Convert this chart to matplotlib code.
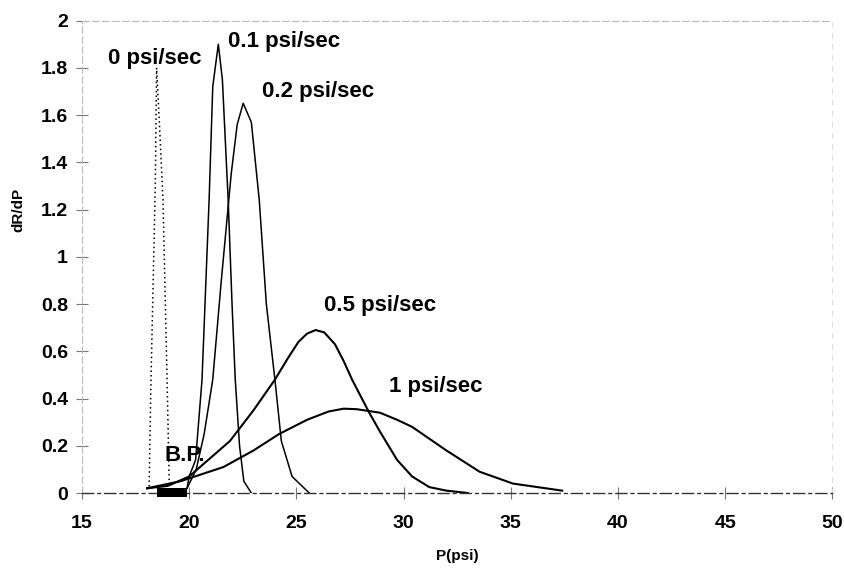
import numpy as np
import matplotlib.pyplot as plt

plt.rcParams['font.family'] = ['Liberation Sans', 'DejaVu Sans']
plt.rcParams['font.weight'] = 'bold'

# curves (pressure in psi, dR/dP)
p_0 = [18.0, 18.13, 18.22, 18.42, 18.48, 18.62, 18.78, 18.97, 19.07]
r_0 = [0.02, 0.02, 0.48, 1.30, 1.80, 1.55, 1.24, 0.48, 0.04]

p_01 = [19.9, 20.0, 20.3, 20.6, 20.93, 21.1, 21.36, 21.55, 21.82, 22.0, 22.15, 22.35, 22.55, 22.9]
r_01 = [0.02, 0.07, 0.14, 0.48, 1.24, 1.72, 1.90, 1.75, 1.24, 0.80, 0.48, 0.20, 0.05, 0.0]

p_02 = [19.9, 20.33, 20.7, 21.1, 21.5, 21.96, 22.24, 22.52, 22.9, 23.27, 23.6, 24.0, 24.3, 24.8, 25.6]
r_02 = [0.02, 0.10, 0.25, 0.48, 0.90, 1.35, 1.56, 1.65, 1.57, 1.24, 0.80, 0.48, 0.22, 0.07, 0.0]

p_05 = [18.04, 19.0, 20.0, 21.9, 23.0, 24.0, 24.6, 25.1, 25.5, 25.9, 26.3, 26.8, 27.2,
        27.6, 28.4, 28.9, 29.7, 30.4, 31.2, 32.0, 33.0]
r_05 = [0.02, 0.03, 0.07, 0.22, 0.35, 0.48, 0.57, 0.64, 0.675, 0.69, 0.68, 0.63, 0.56,
        0.48, 0.34, 0.26, 0.14, 0.07, 0.025, 0.01, 0.0]

p_1 = [18.04, 19.6, 21.6, 23.0, 24.2, 25.5, 26.5, 27.2, 27.8, 28.9, 29.7, 30.4, 31.2,
       32.0, 33.55, 35.1, 37.4]
r_1 = [0.02, 0.05, 0.11, 0.18, 0.25, 0.31, 0.345, 0.357, 0.355, 0.34, 0.31, 0.28, 0.23,
       0.18, 0.09, 0.04, 0.01]

bp_p = [18.5, 19.9]
bp_r = [-0.017, 0.02]

labels = ['0 psi/sec', '0.1 psi/sec', '0.2 psi/sec', '0.5 psi/sec', '1 psi/sec', 'B.P.']
label_p = [16.2, 21.82, 23.41, 26.3, 29.3, 18.83]
label_r = [1.84, 1.91, 1.70, 0.795, 0.45, 0.16]

fig = plt.figure(figsize=(8.45, 5.73), dpi=100)
ax = fig.add_axes([0.097, 0.1396, 0.888, 0.8244])

ax.plot(p_0, r_0, color='black', lw=1.1, ls=(0, (1, 2)))
ax.plot(p_01, r_01, color='black', lw=1.1)
ax.plot(p_02, r_02, color='black', lw=1.1)
ax.plot(p_05, r_05, color='black', lw=1.5)
ax.plot(p_1, r_1, color='black', lw=1.5)
ax.fill_between(bp_p, bp_r[0], bp_r[1], color='black', lw=0, clip_on=False, zorder=3)

for txt, x, y in zip(labels, label_p, label_r):
    ax.text(x, y, txt, fontsize=16, fontweight='bold', ha='left', va='center')

ax.set_xlim(15, 50)
ax.set_ylim(0, 2)
ax.set_xticks(np.arange(15, 51, 5))
ax.set_yticks(np.arange(0, 2.01, 0.2))
ax.set_yticklabels(['0', '0.2', '0.4', '0.6', '0.8', '1', '1.2', '1.4', '1.6', '1.8', '2'])
ax.tick_params(direction='inout', length=8, width=0.8, color='#777777', labelsize=14)
ax.tick_params(axis='x', pad=12)
ax.tick_params(axis='y', pad=6)
for lab in ax.get_xticklabels() + ax.get_yticklabels():
    lab.set_fontweight('bold')

for side in ['top', 'left']:
    ax.spines[side].set_color('#bbbbbb')
    ax.spines[side].set_linestyle((0, (6, 3)))
    ax.spines[side].set_linewidth(0.8)
ax.spines['right'].set_color('#dddddd')
ax.spines['right'].set_linestyle((0, (4, 6)))
ax.spines['right'].set_linewidth(0.8)
ax.spines['bottom'].set_color('#333333')
ax.spines['bottom'].set_linestyle((0, (8, 3, 2, 3)))
ax.spines['bottom'].set_linewidth(1.0)

ax.set_xlabel('P(psi)', fontsize=11, fontweight='bold', labelpad=12)
ax.set_ylabel('dR/dP', fontsize=11, fontweight='bold')
ax.yaxis.set_label_coords(-0.075, 0.6)

fig.savefig('out.png', dpi=100)
